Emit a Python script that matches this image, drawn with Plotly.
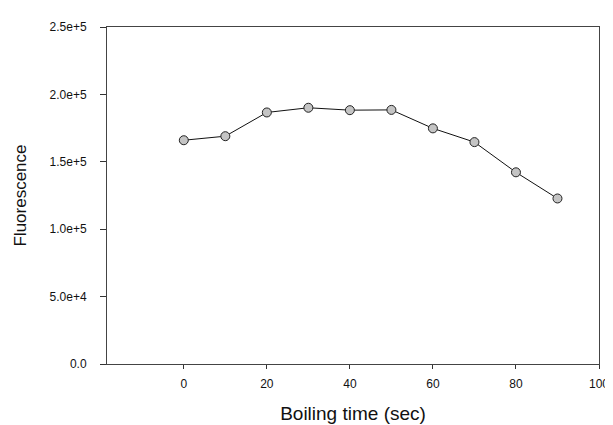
import plotly.graph_objects as go

boil_time = [0, 10, 20, 30, 40, 50, 60, 70, 80, 90]
fluorescence = [166000, 169000, 186600, 190100, 188300, 188500, 174800, 164600, 142200, 122800]

y_tickvals = [0, 50000, 100000, 150000, 200000, 250000]
y_ticktext = ["0.0", "5.0e+4", "1.0e+5", "1.5e+5", "2.0e+5", "2.5e+5"]
x_tickvals = [0, 20, 40, 60, 80, 100]

font_family = "Liberation Sans, Arial, sans-serif"

fig = go.Figure()
fig.add_trace(go.Scatter(
    x=boil_time, y=fluorescence, mode="lines+markers",
    line=dict(color="#111111", width=1),
    marker=dict(symbol="circle", size=9, color="#c4c4c4",
                line=dict(color="#222222", width=1)),
    showlegend=False,
))

fig.update_layout(
    width=613, height=425,
    margin=dict(l=99, r=22, t=15, b=61),
    plot_bgcolor="white", paper_bgcolor="white",
    font=dict(family=font_family, color="#111111", size=12),
)
fig.update_xaxes(
    range=[-18.5, 100], tickvals=x_tickvals,
    ticks="outside", ticklen=4, tickwidth=1, tickcolor="#333333",
    showline=True, linecolor="#444444", linewidth=1, mirror=True,
    showgrid=False, zeroline=False, ticklabelstandoff=5,
    tickfont=dict(size=12, family=font_family),
    title=dict(text="Boiling time (sec)", font=dict(size=19, family=font_family), standoff=16),
)
fig.update_yaxes(
    range=[0, 250000], tickvals=y_tickvals, ticktext=y_ticktext,
    ticks="outside", ticklen=6, tickwidth=1, tickcolor="#333333",
    showline=True, linecolor="#444444", linewidth=1, mirror=True,
    showgrid=False, zeroline=False, ticklabelstandoff=11,
    tickfont=dict(size=12, family=font_family),
    title=dict(text="Fluorescence", font=dict(size=17, family=font_family), standoff=18),
)

fig.write_html("out.html")
